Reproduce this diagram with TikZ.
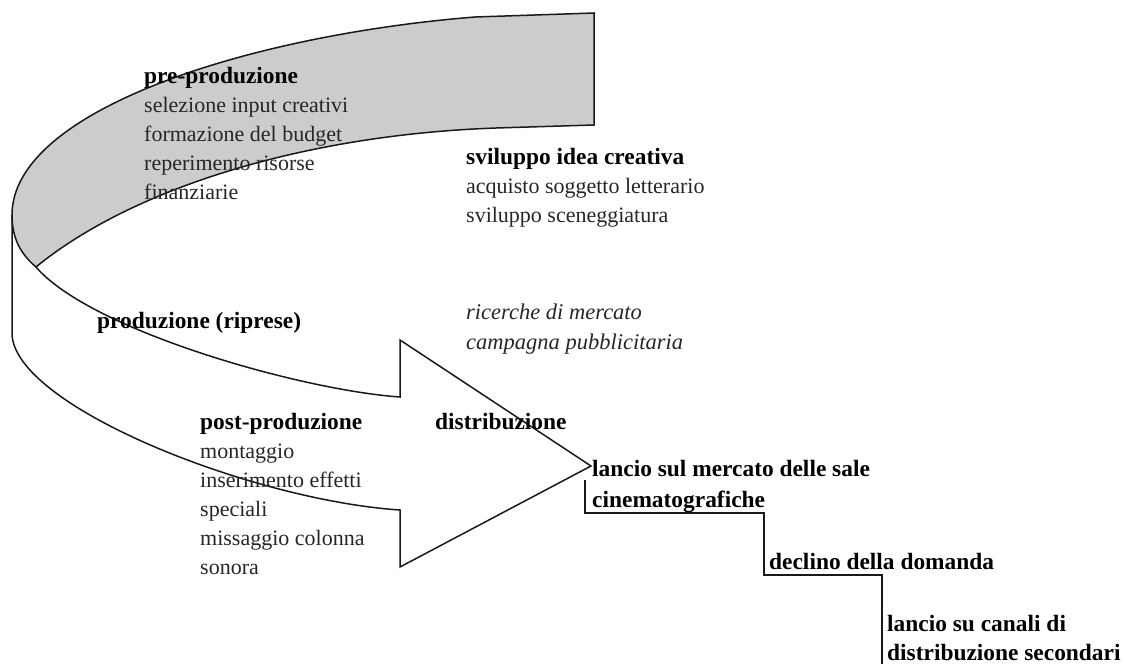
\documentclass[tikz,border=0pt]{standalone}
\usepackage{fontspec}
\setmainfont{Liberation Serif}
\begin{document}
\begin{tikzpicture}[x=1pt,y=-1pt]
\tikzset{
  reg/.style={anchor=base west, inner sep=0pt, font=\fontsize{22}{26}\selectfont, text=black!85},
  hd/.style={anchor=base west, inner sep=0pt, font=\fontsize{23.4}{28}\selectfont\bfseries, text=black},
  itl/.style={anchor=base west, inner sep=0pt, font=\fontsize{22.5}{27}\selectfont\itshape, text=black!85},
  outline/.style={line width=1.5pt, draw=black!90, line join=miter},
}
\useasboundingbox (0,0) rectangle (1124,664);
% grey band (pre-production)
\path[outline, fill=black!20] (594,13) -- (475,17)
  .. controls (250,35) and (12,110) .. (12,215)
  .. controls (12,240) and (22,255) .. (36,267)
  .. controls (130,190) and (300,135) .. (496,128)
  -- (594,125) -- cycle;
% curved arrow
\draw[outline] (12,215) -- (12,333)
  .. controls (12,405) and (250,500) .. (400,510)
  -- (400,567) -- (591,466) -- (400,340) -- (400,397)
  .. controls (300,390) and (90,330) .. (36,267);
% stairs
\draw[outline] (585,480) -- (585,513) -- (764,513) -- (764,575) -- (882,575) -- (882,664);
% texts
\node[hd]  (pre)  at (144,83)  {pre-produzione};
\node[reg] (pre1) at (144,112) {selezione input creativi};
\node[reg] (pre2) at (144,141) {formazione del budget};
\node[reg] (pre3) at (144,170) {reperimento risorse};
\node[reg] (pre4) at (144,199) {finanziarie};
\node[hd]  (svi)  at (466,164) {sviluppo idea creativa};
\node[reg] (svi1) at (466,193) {acquisto soggetto letterario};
\node[reg] (svi2) at (466,222) {sviluppo sceneggiatura};
\node[itl] (ric1) at (466,319) {ricerche di mercato};
\node[itl] (ric2) at (466,349) {campagna pubblicitaria};
\node[hd]  (prod) at (97,328)  {produzione (riprese)};
\node[hd]  (post) at (200,429) {post-produzione};
\node[reg] (post1) at (200,458) {montaggio};
\node[reg] (post2) at (200,487) {inserimento effetti};
\node[reg] (post3) at (200,516) {speciali};
\node[reg] (post4) at (200,545) {missaggio colonna};
\node[reg] (post5) at (200,574) {sonora};
\node[hd]  (dist) at (435,429) {distribuzione};
\node[hd]  (lan1) at (592,476) {lancio sul mercato delle sale};
\node[hd]  (lan2) at (592,507) {cinematografiche};
\node[hd]  (dec)  at (769,569) {declino della domanda};
\node[hd]  (can1) at (887,631) {lancio su canali di};
\node[hd]  (can2) at (887,660) {distribuzione secondari};
\end{tikzpicture}
\end{document}
